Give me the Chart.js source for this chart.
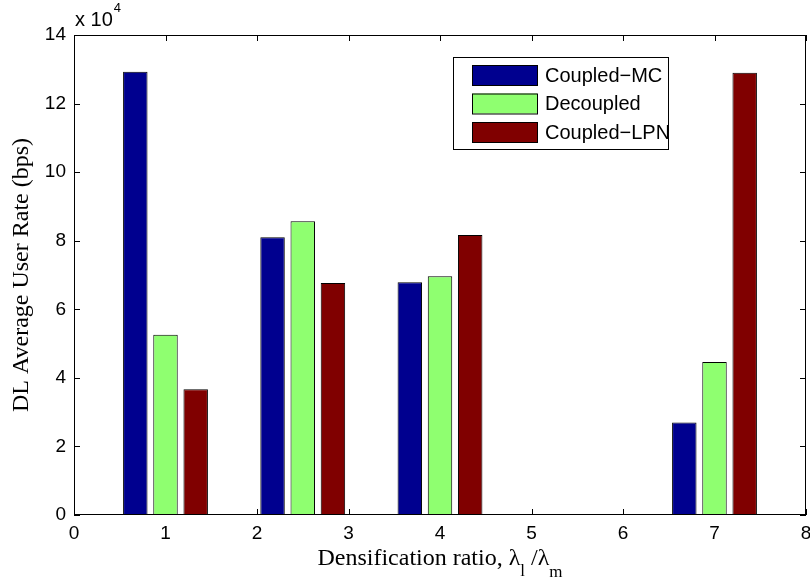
<!DOCTYPE html>
<html>
<head>
<meta charset="utf-8">
<script src="https://cdn.jsdelivr.net/npm/chart.js@4.4.1/dist/chart.umd.min.js"></script>
<style>
    html, body { margin: 0; padding: 0; background: #fff; }
    #wrap { width: 810px; height: 583px; }
</style>
</head>
<body>
<div id="wrap"><canvas id="grafico"></canvas></div>
<script>
// densification ratios where each group of bars sits
const ratios = [1, 2.5, 4, 7];
// DL average user rate (bps)
const coupledMC = [129300, 81000, 67900, 27000];
const decoupled = [52600, 85700, 69600, 44600];
const coupledLPN = [36700, 67700, 81700, 129000];
const seriesNames = ['Coupled\u2212MC', 'Decoupled', 'Coupled\u2212LPN'];
const seriesColors = ['#00008F', '#8FFF70', '#800000'];
const xTicks = [0, 1, 2, 3, 4, 5, 6, 7, 8];
const yTicks = [0, 2, 4, 6, 8, 10, 12, 14]; // x 10^4

const serie = [coupledMC, decoupled, coupledLPN];

const sans = "'Liberation Sans', Arial, sans-serif";
const serif = "'Liberation Serif', 'Times New Roman', serif";

// tick marks pointing inward, as matlab draws them (under the bars)
const tacche = {
    id: 'tacche',
    beforeDatasetsDraw(chart) {
        const ctx = chart.ctx, a = chart.chartArea;
        const xs = chart.scales.x, ys = chart.scales.y;
        const len = 6;
        ctx.save();
        ctx.strokeStyle = '#000';
        ctx.lineWidth = 1;
        ctx.beginPath();
        xTicks.forEach(v => {
            const px = Math.round(xs.getPixelForValue(v)) + 0.5;
            ctx.moveTo(px, a.bottom); ctx.lineTo(px, a.bottom - len);
            ctx.moveTo(px, a.top); ctx.lineTo(px, a.top + len);
        });
        yTicks.forEach(v => {
            const py = Math.round(ys.getPixelForValue(v * 1e4)) + 0.5;
            ctx.moveTo(a.left, py); ctx.lineTo(a.left + len, py);
            ctx.moveTo(a.right, py); ctx.lineTo(a.right - len, py);
        });
        ctx.stroke();
        ctx.restore();
    }
};

// box, exponent label, x title with subscripts, legend
const decorazioni = {
    id: 'decorazioni',
    afterDraw(chart) {
        const ctx = chart.ctx, a = chart.chartArea;
        ctx.save();
        ctx.strokeStyle = '#000';
        ctx.lineWidth = 1;
        ctx.strokeRect(a.left + 0.5, a.top + 0.5, a.right - a.left - 1, a.bottom - a.top - 1);

        // x 10^4
        ctx.fillStyle = '#000';
        ctx.textBaseline = 'alphabetic';
        ctx.textAlign = 'left';
        ctx.font = '20px ' + sans;
        ctx.fillText('x 10', a.left + 1, a.top - 9);
        let w = ctx.measureText('x 10').width;
        ctx.font = '13px ' + sans;
        ctx.fillText('4', a.left + 2 + w, a.top - 23);

        // x axis title
        const parti = [
            ['Densification ratio, \u03bb', 24, 0],
            ['l', 17, 11],
            [' /\u03bb', 24, 0],
            ['m', 17, 12]
        ];
        let tot = 0;
        parti.forEach(p => { ctx.font = p[1] + 'px ' + serif; tot += ctx.measureText(p[0]).width; });
        let x = (a.left + a.right) / 2 - tot / 2;
        const base = chart.height - 18;
        parti.forEach(p => {
            ctx.font = p[1] + 'px ' + serif;
            ctx.fillText(p[0], x, base + p[2]);
            x += ctx.measureText(p[0]).width;
        });

        // legend
        const ly = a.top + 22;
        const bw = 215, bh = 92;
        ctx.fillStyle = '#fff';
        ctx.fillRect(a.right - 353, ly, bw, bh);
        ctx.strokeRect(a.right - 353 + 0.5, ly + 0.5, bw, bh);
        ctx.font = '20px ' + sans;
        ctx.textBaseline = 'middle';
        chart.data.datasets.forEach((ds, i) => {
            const ry = ly + 18 + i * 28.5;
            ctx.fillStyle = ds.backgroundColor;
            ctx.fillRect(a.right - 334, ry - 10, 65, 20);
            ctx.strokeRect(a.right - 334 + 0.5, ry - 10 + 0.5, 65, 20);
            ctx.fillStyle = '#000';
            ctx.fillText(ds.label, a.right - 261, ry + 1);
        });
        ctx.restore();
    }
};

const ctx = document.getElementById('grafico').getContext('2d');
new Chart(ctx, {
    type: 'bar',
    data: {
        datasets: seriesNames.map((nome, i) => ({
            label: nome,
            data: ratios.map((r, j) => ({ x: r, y: serie[i][j] })),
            backgroundColor: seriesColors[i],
            borderColor: '#000',
            borderWidth: 1,
            categoryPercentage: 0.99,
            barPercentage: 0.81
        }))
    },
    options: {
        responsive: true,
        maintainAspectRatio: false,
        animation: false,
        layout: { padding: { top: 35, right: 4, left: 0, bottom: 0 } },
        plugins: {
            legend: { display: false },
            tooltip: { enabled: false }
        },
        scales: {
            x: {
                type: 'linear',
                min: 0,
                max: 8,
                offset: false,
                grid: { display: false, drawTicks: false },
                border: { display: false },
                afterBuildTicks: s => { s.ticks = xTicks.map(v => ({ value: v })); },
                ticks: {
                    color: '#000',
                    font: { family: sans, size: 19 },
                    padding: 7,
                    maxRotation: 0
                },
                afterFit: s => { s.height = 68; s.paddingLeft = 0; s.paddingRight = 0; }
            },
            y: {
                min: 0,
                max: 140000,
                grid: { display: false, drawTicks: false },
                border: { display: false },
                afterBuildTicks: s => { s.ticks = yTicks.map(v => ({ value: v * 1e4 })); },
                ticks: {
                    color: '#000',
                    font: { family: sans, size: 19 },
                    padding: 8,
                    callback: v => v / 1e4
                },
                title: {
                    display: true,
                    text: 'DL Average User Rate (bps)',
                    color: '#000',
                    font: { family: serif, size: 24 },
                    padding: { top: 7, bottom: 0 }
                },
                afterFit: s => { s.width = 74; s.paddingTop = 0; s.paddingBottom = 0; }
            }
        }
    },
    plugins: [tacche, decorazioni]
});
</script>
</body>
</html>
